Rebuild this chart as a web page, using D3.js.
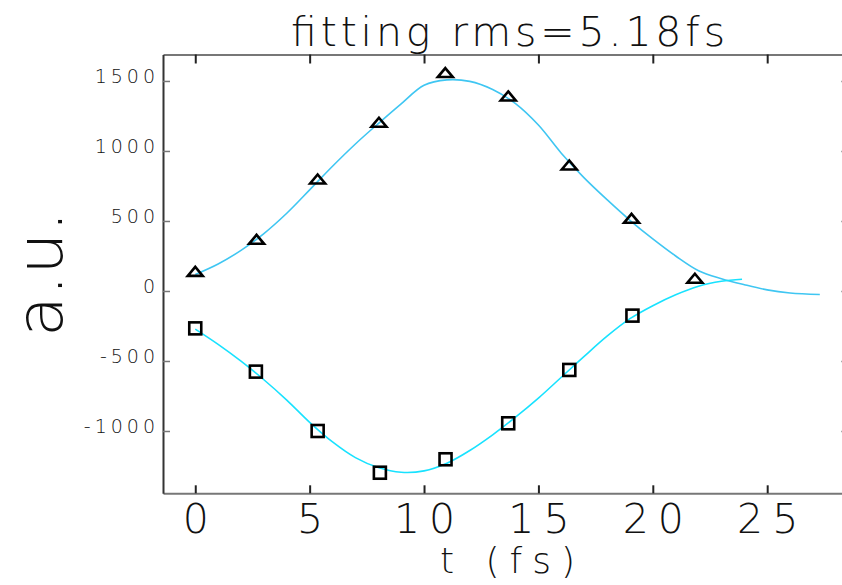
<!DOCTYPE html>
<html>
<head>
<meta charset="utf-8">
<script src="https://cdn.jsdelivr.net/npm/d3@7"></script>
<style>
  html, body { margin: 0; padding: 0; background: #fff; }
  svg { display: block; }
  text { font-family: "DejaVu Sans", sans-serif; font-weight: 200; fill: #111; }
</style>
</head>
<body>
<div id="chart"></div>
<script>
// tick labels
const xTicks = [0, 5, 10, 15, 20, 25];
const yTicks = [-1000, -500, 0, 500, 1000, 1500];

// measured points (triangles)
const triT = [0, 2.68, 5.35, 8.03, 10.93, 13.68, 16.35, 19.07, 21.84];
const triV = [140, 369, 800, 1205, 1560, 1393, 900, 519, 91];

// measured points (squares)
const sqT = [0, 2.65, 5.35, 8.07, 10.94, 13.68, 16.35, 19.11];
const sqV = [-267, -576, -1000, -1298, -1202, -945, -564, -176];

// fitted curve, upper
const fitUpT = [0, 1, 2, 3, 4, 5, 6, 7, 8, 9, 10, 11, 12, 13, 14, 15, 16, 17, 18, 19, 20, 21, 22, 23, 24, 25, 26, 27.3];
const fitUpV = [118, 193, 290, 410, 555, 722, 891, 1050, 1196, 1337, 1470, 1508, 1497, 1439, 1338, 1185, 984, 808, 652, 505, 372, 250, 145, 88, 45, 8, -14, -25];

// fitted curve, lower
const fitLoT = [0, 1, 2, 3, 4, 5, 6, 7, 8, 9, 10, 11, 12, 13, 14, 15, 16, 17, 18, 19, 20, 21, 22, 23, 23.9];
const fitLoV = [-272, -381, -501, -634, -779, -938, -1078, -1190, -1261, -1295, -1285, -1230, -1139, -1027, -901, -765, -616, -467, -323, -198, -105, -27, 34, 69, 84];

const width = 842, height = 585;
const plotL = 163, plotR = 842, plotT = 54.5, plotB = 493.3;

const svg = d3.select('#chart').append('svg')
  .attr('width', width)
  .attr('height', height);

const x = d3.scaleLinear().domain([-1.41, 28.27]).range([plotL, plotR]);
const y = d3.scaleLinear().domain([-1445, 1689]).range([plotB, plotT]);

// axes
const gBottom = svg.append('g')
  .attr('transform', `translate(0,${plotB})`)
  .call(d3.axisBottom(x).tickValues(xTicks).tickSizeInner(-8).tickSizeOuter(0).tickFormat(d3.format('d')));
gBottom.select('.domain').attr('stroke', '#777').attr('stroke-width', 2);
gBottom.selectAll('.tick line').attr('stroke', '#222').attr('stroke-width', 2);
gBottom.selectAll('.tick text')
  .attr('y', 40)
  .attr('dy', null)
  .attr('dx', 4.5)
  .style('font-size', '41px')
  .style('letter-spacing', '9px');

const gTop = svg.append('g')
  .attr('transform', `translate(0,${plotT})`)
  .call(d3.axisTop(x).tickValues(xTicks).tickSizeInner(-9).tickSizeOuter(0).tickFormat(''));
gTop.select('.domain').attr('stroke', '#777').attr('stroke-width', 2);
gTop.selectAll('.tick line').attr('stroke', '#222').attr('stroke-width', 2);

const gLeft = svg.append('g')
  .attr('transform', `translate(${plotL},0)`)
  .call(d3.axisLeft(y).tickValues(yTicks).tickSizeInner(-7).tickSizeOuter(0).tickFormat(d => d3.format('d')(d).replace('−', '-')));
gLeft.select('.domain').attr('stroke', '#333').attr('stroke-width', 2);
gLeft.selectAll('.tick line').attr('stroke', '#777').attr('stroke-width', 1.5);
gLeft.selectAll('.tick text')
  .attr('x', -4)
  .attr('y', 2)
  .attr('dy', null)
  .style('font-size', '19px')
  .style('letter-spacing', '4px');

// right axis, mostly off the picture
const gRight = svg.append('g')
  .attr('transform', `translate(${plotR + 1},0)`)
  .call(d3.axisRight(y).tickValues(yTicks).tickSizeInner(-2).tickSizeOuter(0).tickFormat(''));
gRight.select('.domain').attr('stroke', 'none');
gRight.selectAll('.tick line').attr('stroke', '#aaa').attr('stroke-width', 1.5);

// fitted curves
const line = d3.line()
  .x(d => x(d[0]))
  .y(d => y(d[1]))
  .curve(d3.curveCatmullRom);

svg.append('path')
  .datum(d3.zip(fitUpT, fitUpV))
  .attr('d', line)
  .attr('fill', 'none')
  .attr('stroke', '#3fc6f2')
  .attr('stroke-width', 1.6);

svg.append('path')
  .datum(d3.zip(fitLoT, fitLoV))
  .attr('d', line)
  .attr('fill', 'none')
  .attr('stroke', '#18e2ff')
  .attr('stroke-width', 1.6);

// triangles
svg.append('g').selectAll('path')
  .data(d3.zip(triT, triV))
  .join('path')
  .attr('transform', d => `translate(${x(d[0])},${y(d[1])})`)
  .attr('d', 'M0,-4.5L7.5,4.5L-7.5,4.5Z')
  .attr('fill', 'none')
  .attr('stroke', '#000')
  .attr('stroke-width', 2.6)
  .attr('stroke-linejoin', 'miter');

// squares
svg.append('g').selectAll('rect')
  .data(d3.zip(sqT, sqV))
  .join('rect')
  .attr('x', d => x(d[0]) - 6)
  .attr('y', d => y(d[1]) - 6)
  .attr('width', 12)
  .attr('height', 12)
  .attr('fill', 'none')
  .attr('stroke', '#000')
  .attr('stroke-width', 2.6);

// title and axis titles
svg.append('text')
  .attr('x', 291)
  .attr('y', 46)
  .attr('textLength', 434)
  .attr('lengthAdjust', 'spacing')
  .style('font-size', '41px')
  .text('fitting rms=5.18fs');

svg.append('text')
  .attr('x', 440)
  .attr('y', 573)
  .attr('textLength', 135)
  .attr('lengthAdjust', 'spacing')
  .style('font-size', '36px')
  .text('t (fs)');

svg.append('text')
  .attr('transform', 'translate(61.5,337) rotate(-90)')
  .attr('textLength', 126)
  .attr('lengthAdjust', 'spacingAndGlyphs')
  .style('font-size', '64px')
  .text('a.u.');
</script>
</body>
</html>
